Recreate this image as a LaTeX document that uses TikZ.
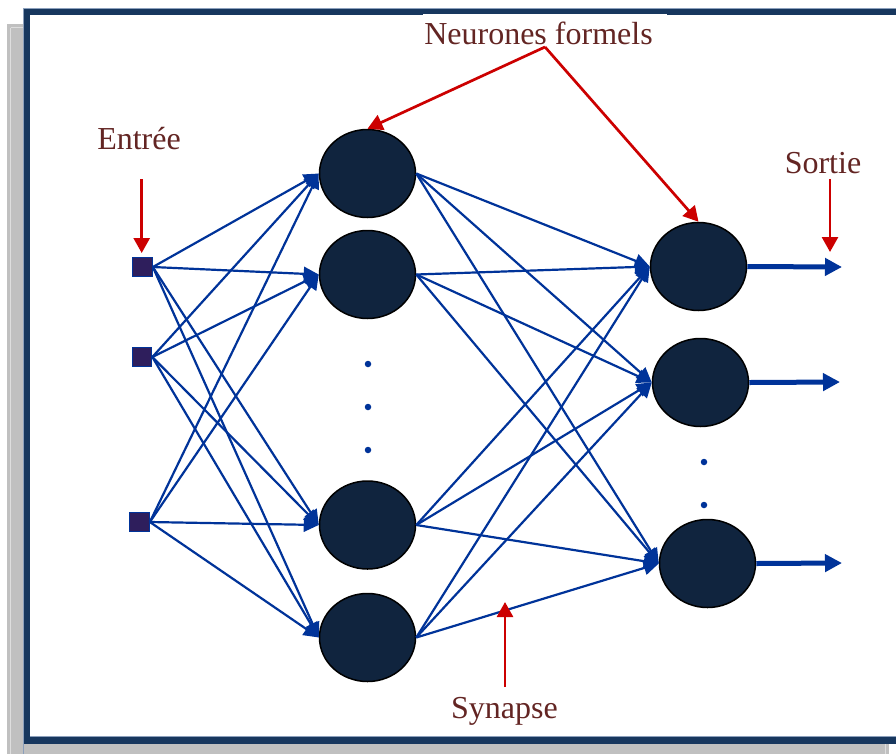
\documentclass[tikz,border=0pt]{standalone}
\usepackage{fontspec}
\setmainfont{Liberation Serif}
\usetikzlibrary{arrows.meta,shapes.geometric}
\definecolor{framenavy}{RGB}{23,55,94}
\definecolor{frameedge}{RGB}{140,160,188}
\definecolor{neuronfill}{RGB}{16,36,62}
\definecolor{linkblue}{RGB}{0,51,153}
\definecolor{labelred}{RGB}{99,37,35}
\definecolor{pointred}{RGB}{204,0,0}
\definecolor{inputfill}{RGB}{46,30,92}
\definecolor{shadowgray}{RGB}{192,192,192}
\definecolor{shadowlight}{RGB}{222,222,222}

\begin{document}
\begin{tikzpicture}[x=1pt,y=-1pt,
  neuron/.style={ellipse,draw=black,line width=1.5pt,fill=neuronfill,
    minimum width=96pt,minimum height=88pt,inner sep=0pt},
  inputbox/.style={rectangle,draw=linkblue,line width=1.2pt,fill=inputfill,
    minimum size=19.5pt,inner sep=0pt},
  synapse/.style={draw=linkblue,line width=2.2pt,-{Triangle[length=15pt,width=14pt]}},
  outlink/.style={draw=linkblue,line width=5pt,-{Triangle[length=17pt,width=17pt]}},
  pointer/.style={draw=pointred,line width=2.7pt,-{Triangle[length=15pt,width=16pt]}},
  caption/.style={text=labelred,font=\fontsize{32}{38}\selectfont,inner sep=0pt,anchor=base},
  dot/.style={circle,fill=linkblue,inner sep=0pt,minimum size=6.5pt}]

\useasboundingbox (0,0) rectangle (896,753);

% drop shadow and framed panel
\fill[shadowgray] (7,24) rectangle (889,760);
\draw[shadowlight,line width=1pt] (10.5,27.5) -- (10.5,757) (10.5,27.5) -- (885.5,27.5) -- (885.5,757);
\fill[white] (23,8) rectangle (905,744);
\draw[framenavy,line width=7pt] (26.5,11.5) rectangle (901.5,740.5);
\draw[frameedge,line width=0.8pt] (23.4,760) -- (23.4,8.4) -- (905,8.4);
\draw[frameedge,line width=0.8pt] (30,736.6) -- (905,736.6);
\fill[white] (423,13.6) rectangle (667,15.5);

% input units
\node[inputbox] (i1) at (142.5,267) {};
\node[inputbox] (i2) at (142,357) {};
\node[inputbox] (i3) at (139.5,522) {};

% hidden neurons
\node[neuron] (h1) at (367.5,173.5) {};
\node[neuron] (h2) at (367.5,274.5) {};
\node[neuron] (h3) at (367.5,525) {};
\node[neuron] (h4) at (367.5,637.5) {};

% output neurons
\node[neuron] (o1) at (698.5,266.5) {};
\node[neuron] (o2) at (700.5,382.5) {};
\node[neuron] (o3) at (707.5,563.5) {};

% ellipsis dots
\node[dot] (hd1) at (368,364) {};
\node[dot] (hd2) at (368,407) {};
\node[dot] (hd3) at (368,450) {};
\node[dot] (od1) at (704,462) {};
\node[dot] (od2) at (704,505) {};

% weighted links: inputs to hidden layer
\foreach \i in {i1,i2,i3}
  \foreach \h in {h1,h2,h3,h4}
    \draw[synapse] (\i.east) -- (\h.west);

% weighted links: hidden layer to outputs
\foreach \h in {h1,h2,h3,h4}
  \foreach \o in {o1,o2,o3}
    \draw[synapse] (\h.east) -- (\o.west);

% outputs
\coordinate (y1) at (842,267);
\coordinate (y2) at (840,382);
\coordinate (y3) at (842,563);
\draw[outlink] (o1.east) -- (y1);
\draw[outlink] (o2.east) -- (y2);
\draw[outlink] (o3.east) -- (y3);

% captions
\node[caption] (entree) at (139,149) {Entrée};
\node[caption] (sortie) at (823,173) {Sortie};
\node[caption] (neurones) at (538.5,44) {Neurones formels};
\node[caption] (synlabel) at (504.5,718) {Synapse};

% red pointers
\coordinate (pe0) at (141.7,179);
\coordinate (pe1) at (141.7,253);
\coordinate (ps0) at (830,179);
\coordinate (ps1) at (830,252);
\coordinate (pn) at (545,47);
\coordinate (py0) at (505,687);
\coordinate (py1) at (505,602);
\draw[pointer] (pe0) -- (pe1);
\draw[pointer] (ps0) -- (ps1);
\draw[pointer] (pn) -- (h1.north);
\draw[pointer] (pn) -- (o1.north);
\draw[pointer] (py0) -- (py1);

\end{tikzpicture}
\end{document}
